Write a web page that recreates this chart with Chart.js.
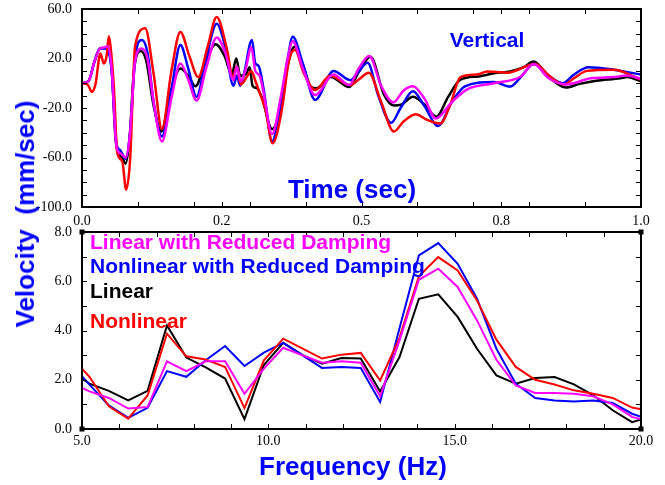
<!DOCTYPE html>
<html>
<head>
<meta charset="utf-8">
<script src="https://cdn.jsdelivr.net/npm/chart.js@4.4.1/dist/chart.umd.min.js"></script>
<style>
  body { margin: 0; background: #fff; }
  #page { position: relative; width: 665px; height: 485px; overflow: hidden;
          font-family: "Liberation Sans", Arial, sans-serif; font-weight: bold; }
  .box { position: absolute; left: 0; width: 665px; }
  .lbl { position: absolute; white-space: nowrap; line-height: 1; }
  .mid { transform: translate(-50%, -50%); }
  .leg { left: 90px; font-size: 21px; transform: translateY(-50%); }
</style>
</head>
<body>
<div id="page">
  <div class="box" style="top:0;height:232px"><canvas id="timeChart"></canvas></div>
  <div class="box" style="top:222px;height:263px"><canvas id="freqChart"></canvas></div>

  <div class="lbl mid" style="left:487px;top:39px;font-size:21px;color:#0000ff">Vertical</div>
  <div class="lbl mid" style="left:352px;top:189px;font-size:26px;color:#0000ff">Time (sec)</div>
  <div class="lbl mid" style="left:353px;top:466px;font-size:26px;color:#0000ff">Frequency (Hz)</div>
  <div class="lbl" style="left:25px;top:214px;font-size:26px;color:#0000ff;transform:translate(-50%,-50%) rotate(-90deg)">Velocity&nbsp; (mm/sec)</div>

  <div class="lbl leg" style="top:241px;color:#ff00ff">Linear with Reduced Damping</div>
  <div class="lbl leg" style="top:265px;color:#0000ff">Nonlinear with Reduced Damping</div>
  <div class="lbl leg" style="top:290px;color:#000000">Linear</div>
  <div class="lbl leg" style="top:320px;color:#ff0000">Nonlinear</div>
</div>

<script>
// ---- time history (top panel) ----
const timeTickValues = [0, 0.25, 0.5, 0.75, 1.0];
const timeTickLabels = ["0.0", "0.2", "0.5", "0.8", "1.0"];
const timeMarks = [0.1, 0.2, 0.25, 0.3, 0.4, 0.5, 0.6, 0.7, 0.75, 0.8, 0.9];
const velTickValues = [-100, -60, -20, 20, 60];
const velTickLabels = ["-100.0", "-60.0", "-20.0", "20.0", "60.0"];
const velMarks = [-90, -80, -70, -60, -50, -40, -30, -20, -10, 0, 10, 20, 30, 40, 50];

const tLinear = [0, 0.012, 0.022, 0.032, 0.040, 0.046, 0.053, 0.060, 0.067, 0.072, 0.078, 0.085, 0.093, 0.105, 0.115, 0.128, 0.142, 0.158, 0.176, 0.190, 0.203, 0.220, 0.239, 0.255, 0.268, 0.276, 0.283, 0.294, 0.300, 0.305, 0.313, 0.322, 0.340, 0.354, 0.366, 0.380, 0.395, 0.410, 0.420, 0.445, 0.478, 0.495, 0.516, 0.540, 0.558, 0.572, 0.592, 0.612, 0.634, 0.655, 0.677, 0.710, 0.737, 0.766, 0.790, 0.808, 0.835, 0.866, 0.890, 0.920, 0.963, 0.975, 1.000];
const vLinear = [0, 2, 17, 28, 28.5, 28, 12, -45, -58, -60, -65, -45, 10, 26, 18, -18, -39, -8, 12, 6, -2.5, 16, 31.5, 22, 7, 20, 6, 8, 13, -2, -4, -12, -37, -22, 10, 29.5, 15, -3, -4, 5, -3, 9, 21.5, -9, -18, -17, -11, -17, -27, -11, 3, 5.5, 8, 9.5, 13, 17.5, 5, -3.5, -0.5, 2, 4, 5, 1.5];

const tNonlinRD = [0, 0.012, 0.022, 0.032, 0.040, 0.046, 0.053, 0.062, 0.068, 0.072, 0.078, 0.086, 0.095, 0.107, 0.117, 0.128, 0.143, 0.160, 0.176, 0.190, 0.205, 0.222, 0.241, 0.256, 0.271, 0.277, 0.283, 0.290, 0.304, 0.310, 0.316, 0.325, 0.340, 0.356, 0.368, 0.377, 0.395, 0.417, 0.450, 0.480, 0.494, 0.511, 0.530, 0.553, 0.570, 0.592, 0.612, 0.637, 0.662, 0.685, 0.737, 0.766, 0.785, 0.808, 0.835, 0.860, 0.880, 0.906, 0.951, 1.000];
const vNonlinRD = [0, 2, 17, 28, 28, 27, 10, -50, -54, -57, -61, -40, 20, 35, 25, -15, -43, -5, 31, 12, -11, 20, 48, 30, -2, 6, -2, 8, 35, 16, 14, -5, -47, -15, 20, 37.5, 16, -13.5, 10, 2.5, 9, 16.5, -10, -32, -20, -6.5, -18, -34.5, -15, -2.5, 1, -2.7, 5, 15.5, 6, 0, 7, 13, 11, 7];

const tLinearRD = [0, 0.012, 0.022, 0.032, 0.040, 0.046, 0.053, 0.062, 0.070, 0.078, 0.086, 0.095, 0.107, 0.117, 0.128, 0.143, 0.160, 0.176, 0.190, 0.205, 0.222, 0.241, 0.256, 0.271, 0.277, 0.284, 0.292, 0.303, 0.310, 0.318, 0.325, 0.340, 0.356, 0.368, 0.377, 0.395, 0.417, 0.450, 0.478, 0.495, 0.514, 0.535, 0.557, 0.575, 0.592, 0.612, 0.633, 0.660, 0.689, 0.737, 0.785, 0.808, 0.835, 0.866, 0.910, 0.951, 0.975, 1.000];
const vLinearRD = [0, 2, 17, 28, 29, 30, 12, -52, -57, -60, -40, 18, 28, 20, -15, -47, -12, 16, 3, -14, 12, 37, 25, 2.5, 13.5, 1.5, 10, 29, 10, 6, -8, -41, -10, 20, 34, 12, -9.5, 7, -1.5, 12, 22, -2, -15.5, -6, -2.5, -12, -28.5, -16, -5, 0, 5.5, 15.5, 4, -1, 4, 5, 6.2, 3.5];

const tNonlin = [0, 0.010, 0.018, 0.024, 0.033, 0.039, 0.044, 0.048, 0.051, 0.057, 0.063, 0.072, 0.079, 0.086, 0.095, 0.113, 0.128, 0.143, 0.160, 0.176, 0.192, 0.208, 0.225, 0.241, 0.259, 0.270, 0.277, 0.284, 0.296, 0.303, 0.310, 0.318, 0.328, 0.341, 0.358, 0.370, 0.381, 0.396, 0.417, 0.444, 0.480, 0.495, 0.513, 0.535, 0.558, 0.575, 0.597, 0.617, 0.641, 0.659, 0.677, 0.706, 0.725, 0.761, 0.811, 0.836, 0.862, 0.880, 0.903, 0.951, 1.000];
const vNonlin = [0, -1, -7, -1, 24, 16, 22, 38, 30, -3, -56, -63, -86, -62, 30, 44.5, 8, -37, 10, 41.5, 22, 5, 30, 53.5, 28, 5, 13.5, -1, 6, 10, 2, -8, -21, -48.5, -20, 18, 27, 9, -5.5, 6, -1.5, 3, 8.5, -15, -39, -31, -25, -29.5, -32.5, -17, 5, 7, 9.5, 8.5, 15.5, 6, -1, 4, 10, 11, 3];

// ---- Fourier amplitude (bottom panel) ----
const freqTickValues = [5, 10, 15, 20];
const freqTickLabels = ["5.0", "10.0", "15.0", "20.0"];
const freqMarks = [6, 7, 8, 9, 10, 11, 12, 13, 14, 15, 16, 17, 18, 19];
const ampTickValues = [0, 2, 4, 6, 8];
const ampTickLabels = ["0.0", "2.0", "4.0", "6.0", "8.0"];
const ampMarks = [1, 2, 3, 4, 5, 6, 7];

const freqHz = [4.68, 5.20, 5.72, 6.24, 6.76, 7.28, 7.80, 8.32, 8.84, 9.36, 9.88, 10.40, 10.92, 11.44, 11.96, 12.48, 13.00, 13.52, 14.04, 14.56, 15.08, 15.60, 16.12, 16.64, 17.16, 17.68, 18.20, 18.72, 19.24, 19.76, 20.28];
const fLinear = [2.39, 1.84, 1.55, 1.16, 1.55, 4.20, 2.90, 2.50, 2.05, 0.40, 2.60, 3.50, 3.00, 2.65, 2.88, 2.86, 1.52, 2.92, 5.29, 5.47, 4.55, 3.26, 2.18, 1.84, 2.07, 2.11, 1.81, 1.37, 0.76, 0.28, 0.51];
const fNonlin = [2.98, 2.12, 0.92, 0.42, 1.36, 3.87, 2.95, 2.82, 2.52, 0.85, 2.79, 3.67, 3.26, 2.86, 3.02, 3.09, 1.97, 3.70, 6.20, 6.98, 6.44, 5.22, 3.63, 2.52, 2.00, 1.81, 1.57, 1.43, 1.26, 0.87, 0.72];
const fNonlinRD = [2.70, 1.80, 0.96, 0.45, 0.86, 2.35, 2.12, 2.79, 3.37, 2.56, 3.10, 3.50, 2.99, 2.48, 2.52, 2.48, 1.10, 4.09, 7.05, 7.55, 6.71, 5.29, 3.26, 1.84, 1.26, 1.16, 1.12, 1.16, 1.06, 0.62, 0.35];
const fLinearRD = [1.90, 1.53, 1.26, 0.83, 0.89, 2.75, 2.35, 2.75, 2.75, 1.43, 2.45, 3.30, 2.99, 2.69, 2.75, 2.69, 1.33, 3.60, 6.06, 6.51, 5.77, 4.41, 2.81, 1.77, 1.46, 1.46, 1.43, 1.33, 1.00, 0.49, 0.28];

const MAGENTA = "#ff00ff", RED = "#ff0000", BLUE = "#0000ff", BLACK = "#000000";

Chart.defaults.font.family = "'Liberation Serif', 'Times New Roman', serif";
Chart.defaults.font.size = 14;
Chart.defaults.color = "#000";
Chart.defaults.animation = false;

const pts = (xs, ys) => xs.map((x, i) => ({ x: x, y: ys[i] }));

// frame with inward tick marks on all four sides
const frameTicks = {
  id: "frameTicks",
  afterDraw(chart, args, opts) {
    const { ctx, chartArea: a } = chart;
    const x = chart.scales.x, y = chart.scales.y;
    const len = 5;
    ctx.save();
    ctx.strokeStyle = "#000";
    ctx.lineWidth = 1;
    ctx.beginPath();
    opts.xMarks.forEach((v) => {
      const px = Math.round(x.getPixelForValue(v)) + 0.5;
      ctx.moveTo(px, a.bottom); ctx.lineTo(px, a.bottom - len);
      ctx.moveTo(px, a.top); ctx.lineTo(px, a.top + len);
    });
    opts.yMarks.forEach((v) => {
      const py = Math.round(y.getPixelForValue(v)) + 0.5;
      ctx.moveTo(a.left, py); ctx.lineTo(a.left + len, py);
      ctx.moveTo(a.right, py); ctx.lineTo(a.right - len, py);
    });
    ctx.stroke();
    ctx.lineWidth = 2;
    ctx.strokeRect(a.left, a.top, a.right - a.left, a.bottom - a.top);
    if (opts.corners) {
      ctx.fillStyle = "#000";
      [[a.left, a.top], [a.right, a.top], [a.left, a.bottom], [a.right, a.bottom]].forEach(([cx, cy]) => {
        ctx.fillRect(cx - 2.5, cy - 2.5, 5, 5);
      });
    }
    ctx.restore();
  },
};

function series(label, color, data, width, order) {
  return {
    label: label,
    data: data,
    borderColor: color,
    backgroundColor: color,
    borderWidth: width,
    pointRadius: 0,
    fill: false,
    order: order,
  };
}

function axes(xr, yr, xTicks, xLabels, yTicks, yLabels, xHeight, xPad) {
  return {
    x: {
      type: "linear",
      min: xr[0],
      max: xr[1],
      grid: { display: false, drawTicks: false },
      border: { display: false },
      afterBuildTicks: (s) => { s.ticks = xTicks.map((v) => ({ value: v })); },
      afterFit: (s) => { s.height = xHeight; s.paddingLeft = 0; s.paddingRight = 0; },
      ticks: { autoSkip: false, maxRotation: 0, padding: xPad, callback: (v, i) => xLabels[i] },
    },
    y: {
      type: "linear",
      min: yr[0],
      max: yr[1],
      grid: { display: false, drawTicks: false },
      border: { display: false },
      afterBuildTicks: (s) => { s.ticks = yTicks.map((v) => ({ value: v })); },
      afterFit: (s) => { s.width = 82; s.paddingTop = 0; s.paddingBottom = 0; },
      ticks: { padding: 10, callback: (v, i) => yLabels[i] },
    },
  };
}

new Chart(document.getElementById("timeChart"), {
  type: "line",
  data: {
    datasets: [
      series("Linear with Reduced Damping", MAGENTA, pts(tLinearRD, vLinearRD), 2.5, 1),
      series("Nonlinear", RED, pts(tNonlin, vNonlin), 2.5, 2),
      series("Nonlinear with Reduced Damping", BLUE, pts(tNonlinRD, vNonlinRD), 2.5, 3),
      series("Linear", BLACK, pts(tLinear, vLinear), 2.5, 4),
    ],
  },
  options: {
    responsive: true,
    maintainAspectRatio: false,
    layout: { padding: { top: 9, right: 24, left: 0, bottom: 0 } },
    elements: { line: { cubicInterpolationMode: "monotone" } },
    plugins: {
      legend: { display: false },
      tooltip: { enabled: false },
      frameTicks: { xMarks: timeMarks, yMarks: velMarks, corners: false },
    },
    scales: axes([0, 1], [-100, 60], timeTickValues, timeTickLabels, velTickValues, velTickLabels, 25, 6),
  },
  plugins: [frameTicks],
});

new Chart(document.getElementById("freqChart"), {
  type: "line",
  data: {
    datasets: [
      series("Linear with Reduced Damping", MAGENTA, pts(freqHz, fLinearRD), 2, 1),
      series("Nonlinear", RED, pts(freqHz, fNonlin), 2, 2),
      series("Nonlinear with Reduced Damping", BLUE, pts(freqHz, fNonlinRD), 2, 3),
      series("Linear", BLACK, pts(freqHz, fLinear), 2, 4),
    ],
  },
  options: {
    responsive: true,
    maintainAspectRatio: false,
    layout: { padding: { top: 10, right: 24, left: 0, bottom: 0 } },
    elements: { line: { tension: 0 } },
    plugins: {
      legend: { display: false },
      tooltip: { enabled: false },
      frameTicks: { xMarks: freqMarks, yMarks: ampMarks, corners: true },
    },
    scales: axes([5, 20], [0, 8], freqTickValues, freqTickLabels, ampTickValues, ampTickLabels, 56, 4),
  },
  plugins: [frameTicks],
});
</script>
</body>
</html>
